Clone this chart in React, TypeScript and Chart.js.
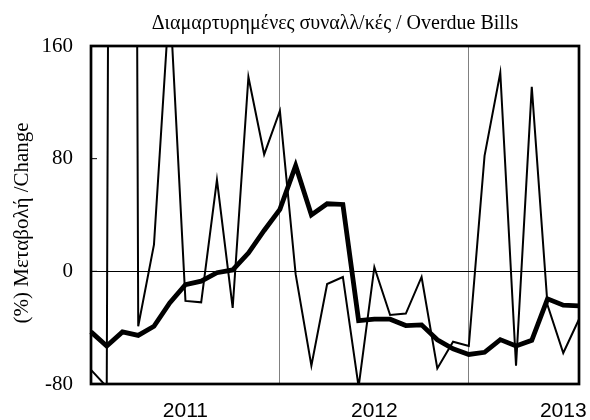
import React, { useEffect, useRef } from 'react';
import { Chart, registerables } from 'chart.js';

Chart.register(...registerables);

const months = [
  'Jan 2011', 'Feb 2011', 'Mar 2011', 'Apr 2011', 'May 2011', 'Jun 2011',
  'Jul 2011', 'Aug 2011', 'Sep 2011', 'Oct 2011', 'Nov 2011', 'Dec 2011',
  'Jan 2012', 'Feb 2012', 'Mar 2012', 'Apr 2012', 'May 2012', 'Jun 2012',
  'Jul 2012', 'Aug 2012', 'Sep 2012', 'Oct 2012', 'Nov 2012', 'Dec 2012',
  'Jan 2013', 'Feb 2013', 'Mar 2013', 'Apr 2013', 'May 2013', 'Jun 2013',
  'Jul 2013', 'Aug 2013',
];

// thin line: monthly % change
const monthlyChange = [
  -70, -82, 3000, -39, 19, 195, -21, -22, 65, -26, 138, 83,
  114, -2, -67, -9, -4, -82, 3, -31, -30, -4, -69, -50,
  -53, 82, 141, -67, 131, -24, -58, -34,
];

// thick line: smoothed % change
const smoothedChange = [
  -43, -53, -43, -45.5, -39, -22.5, -9.5, -7, -1, 1, 13, 29,
  44, 75, 40, 48, 47.5, -35, -34, -34, -38.5, -38, -48.6, -55,
  -59, -57.5, -48.5, -53, -49, -19.5, -24, -24.5,
];

const yTicks = [-80, 0, 80, 160];
const yearLabelMonths = ['Jul 2011', 'Jul 2012', 'Jul 2013'];
const yearTickLabels = ['2011', '2012', '2013'];
const yearBoundaryMonths = ['Jan 2012', 'Jan 2013'];

const titleText = 'Διαμαρτυρημένες συναλλ/κές / Overdue Bills';
const yTitleText = '(%) Μεταβολή /Change\u00a0\u00a0\u00a0';

const framePlugin = {
  id: 'frame',
  afterDatasetsDraw(chart: any) {
    const { ctx, chartArea, scales } = chart;
    const { left, top, right, bottom } = chartArea;
    const y = scales.y;
    ctx.save();
    ctx.strokeStyle = '#000';
    ctx.lineWidth = 1;
    y.ticks.forEach((t: any) => {
      const py = y.getPixelForValue(t.value);
      ctx.beginPath();
      ctx.moveTo(left, py);
      ctx.lineTo(left + 6, py);
      ctx.stroke();
    });
    ctx.lineWidth = 2.7;
    ctx.strokeRect(left, top, right - left, bottom - top);
    ctx.restore();
  },
};

export default function App() {
  const canvasRef = useRef<HTMLCanvasElement | null>(null);

  useEffect(() => {
    const canvas = canvasRef.current;
    if (!canvas) return;
    const chart = new Chart(canvas, {
      type: 'line',
      data: {
        labels: months,
        datasets: [
          {
            data: smoothedChange,
            borderColor: '#000',
            borderWidth: 4.8,
            pointRadius: 0,
            tension: 0,
            fill: false,
          },
          {
            data: monthlyChange,
            borderColor: '#000',
            borderWidth: 2,
            pointRadius: 0,
            tension: 0,
            fill: false,
          },
        ],
      },
      options: {
        responsive: false,
        animation: false,
        devicePixelRatio: 1,
        layout: { padding: { left: 0, right: 11, top: 0, bottom: 0 } },
        plugins: {
          legend: { display: false },
          tooltip: { enabled: false },
          title: {
            display: true,
            text: titleText,
            fullSize: false,
            color: '#000',
            font: { family: 'Liberation Serif', size: 20, weight: 'normal' },
            padding: { top: 11.8, bottom: 10.2 },
          },
        },
        scales: {
          x: {
            type: 'category',
            offset: false,
            border: { display: false },
            grid: {
              drawTicks: false,
              lineWidth: 1,
              color: (ctx: any) =>
                yearBoundaryMonths.includes(months[ctx.index]) ? '#808080' : 'rgba(0,0,0,0)',
            },
            ticks: {
              autoSkip: false,
              maxRotation: 0,
              minRotation: 0,
              color: '#000',
              padding: 14.5,
              font: { family: 'Liberation Sans', size: 21 },
              callback: (_v: any, i: number) => {
                const k = yearLabelMonths.indexOf(months[i]);
                return k >= 0 ? yearTickLabels[k] : '';
              },
            },
            afterFit: (s: any) => {
              s.height = 36;
              s.paddingLeft = 0;
              s.paddingRight = 0;
            },
          },
          y: {
            min: -80,
            max: 160,
            border: { display: false },
            afterBuildTicks: (s: any) => {
              s.ticks = yTicks.map((v) => ({ value: v }));
            },
            grid: {
              drawTicks: false,
              lineWidth: 1,
              color: (ctx: any) =>
                ctx.tick && ctx.tick.value === 0 ? '#000' : 'rgba(0,0,0,0)',
            },
            ticks: {
              color: '#000',
              padding: 18,
              font: { family: 'Liberation Serif', size: 21 },
            },
            title: {
              display: true,
              text: yTitleText,
              color: '#000',
              font: { family: 'Liberation Serif', size: 21 },
              padding: { top: 10, bottom: 0 },
            },
            afterFit: (s: any) => {
              s.width = 91;
            },
          },
        },
      },
      plugins: [framePlugin],
    });
    return () => chart.destroy();
  }, []);

  return (
    <div style={{ position: 'fixed', left: 0, top: 0, width: 590, height: 420, background: '#fff' }}>
      <canvas ref={canvasRef} width={590} height={420} style={{ display: 'block' }} />
    </div>
  );
}
